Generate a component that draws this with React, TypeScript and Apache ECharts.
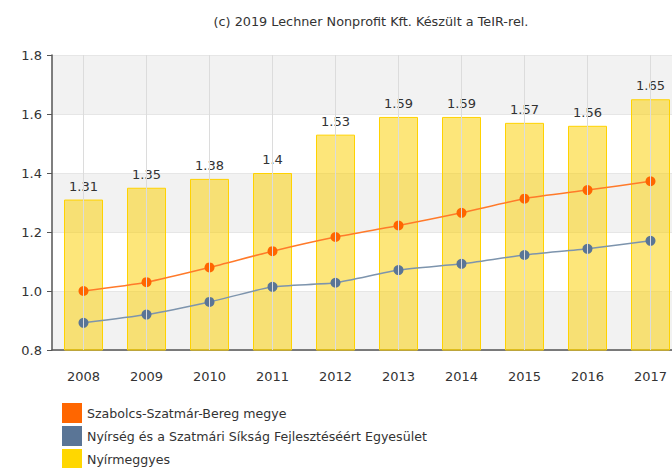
import React, { useEffect, useRef } from "react";
import * as echarts from "echarts";

const years = ["2008", "2009", "2010", "2011", "2012", "2013", "2014", "2015", "2016", "2017"];
const nyirmeggyes = [1.31, 1.35, 1.38, 1.4, 1.53, 1.59, 1.59, 1.57, 1.56, 1.65];
const szabolcs = [1.0, 1.03, 1.08, 1.135, 1.183, 1.222, 1.265, 1.313, 1.342, 1.372];
const nyirseg = [0.892, 0.92, 0.963, 1.014, 1.028, 1.071, 1.092, 1.122, 1.143, 1.17];
const seriesNames = [
  "Szabolcs-Szatmár-Bereg megye",
  "Nyírség és a Szatmári Síkság Fejlesztéséért Egyesület",
  "Nyírmeggyes",
];
const legendColors = ["#ff6600", "#5a7596", "#ffd700"];
const titleText = "(c) 2019 Lechner Nonprofit Kft. Készült a TeIR-rel.";

const FONT = "DejaVu Sans";

export default function App() {
  const ref = useRef<HTMLDivElement>(null);
  useEffect(() => {
    if (!ref.current) return;
    const chart = echarts.init(ref.current, undefined, { renderer: "svg" });
    chart.setOption({
      animation: false,
      textStyle: { fontFamily: FONT },
      title: {
        text: titleText,
        left: 366,
        textAlign: "center",
        top: 10,
        textStyle: { fontSize: 12.8, fontWeight: "normal", color: "#333", fontFamily: FONT },
      },
      legend: {
        orient: "vertical",
        left: 57,
        top: 398,
        itemWidth: 20,
        itemHeight: 20,
        itemGap: 3,
        icon: "rect",
        data: seriesNames.map((n, i) => ({
          name: n,
          itemStyle: { color: legendColors[i], borderWidth: 0, opacity: 1 },
        })),
        textStyle: { fontSize: 12.6, color: "#333", fontFamily: FONT },
      },
      grid: { left: 52, top: 55, width: 630, height: 295, containLabel: false },
      xAxis: {
        type: "category",
        data: years,
        axisLine: { lineStyle: { color: "#555", width: 1.5 } },
        axisTick: { alignWithLabel: true, length: 5, lineStyle: { color: "#555" } },
        axisLabel: { fontSize: 13, color: "#333", margin: 20, fontFamily: FONT },
        splitLine: { show: false },
      },
      yAxis: {
        type: "value",
        min: 0.8,
        max: 1.8,
        interval: 0.2,
        axisLine: { show: true, lineStyle: { color: "#555", width: 1.5 } },
        axisTick: { show: true, length: 5, lineStyle: { color: "#555" } },
        axisLabel: {
          fontSize: 13,
          color: "#333",
          margin: 10,
          fontFamily: FONT,
          formatter: (v: number) => v.toFixed(1),
        },
        splitLine: { show: true, lineStyle: { color: "#e6e6e6" } },
        splitArea: { show: true, areaStyle: { color: ["#f2f2f2", "#ffffff"] } },
      },
      series: [
        {
          name: seriesNames[2],
          type: "bar",
          data: nyirmeggyes,
          barWidth: 39,
          z: 1,
          itemStyle: {
            color: "rgba(252,208,0,0.52)",
            borderColor: "#ffd200",
            borderWidth: 1,
          },
          label: {
            show: true,
            position: "top",
            distance: 7,
            fontSize: 13,
            color: "#333",
            fontFamily: FONT,
            formatter: (p: any) => String(p.value),
          },
          markLine: {
            silent: true,
            symbol: ["none", "none"],
            label: { show: false },
            lineStyle: { color: "#dcdcdc", type: "solid", width: 1 },
            data: years.map((y) => ({ xAxis: y })),
          },
        },
        {
          name: seriesNames[0],
          type: "line",
          data: szabolcs,
          smooth: 0.2,
          symbol: "circle",
          symbolSize: 10,
          z: 3,
          lineStyle: { color: "#ff7a2a", width: 1.5 },
          itemStyle: { color: "#ff6600" },
        },
        {
          name: seriesNames[1],
          type: "line",
          data: nyirseg,
          smooth: 0.2,
          symbol: "circle",
          symbolSize: 10,
          z: 3,
          lineStyle: { color: "#7d94ad", width: 1.5 },
          itemStyle: { color: "#5a7596" },
        },
      ],
    });
    return () => chart.dispose();
  }, []);
  return (
    <div
      style={{
        position: "fixed",
        left: 0,
        top: 0,
        width: 672,
        height: 468,
        overflow: "hidden",
        background: "#fff",
      }}
    >
      <div ref={ref} style={{ width: 700, height: 480 }} />
    </div>
  );
}
